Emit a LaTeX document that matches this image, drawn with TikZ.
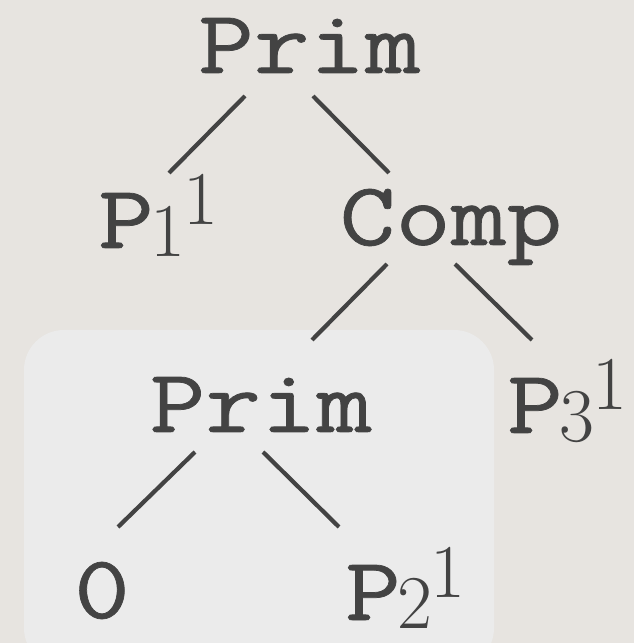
\documentclass[tikz,border=0pt]{standalone}
\usepackage{fontspec}
\newfontfamily\cf{Latin Modern Mono}[FakeBold=0.8, FakeStretch=1.2]
\definecolor{bgc}{HTML}{E7E4E0}
\definecolor{boxc}{HTML}{EBEBEB}
\definecolor{inkc}{HTML}{434343}
\newcommand{\dig}[1]{{\fontsize{76}{78}\rmfamily #1}}
\newcommand{\Pij}[2]{P\kern-3pt\raisebox{-9pt}{\dig{#1}}\kern-2pt\raisebox{23pt}{\dig{#2}}}
\tikzset{
  term/.style={inner sep=0pt, text=inkc, font=\fontsize{90}{94}\cf},
  edge/.style={draw=inkc, line width=4.2pt}
}
\begin{document}
\begin{tikzpicture}[x=1pt,y=1pt]
\useasboundingbox (0,0) rectangle (634,643);
\fill[bgc] (0,0) rectangle (634,643);
\begin{scope}
\clip (0,0) rectangle (634,643);
\fill[boxc, rounded corners=40pt] (24,-25) rectangle (494,313);
\end{scope}
% nodes
\node[term, anchor=base] (root) at (309.5,570) {Prim};
\node[term, anchor=base west] (p1) at (98,395) {\Pij{1}{1}};
\node[term, anchor=base] (comp) at (451,398) {Comp};
\node[term, anchor=base] (prim2) at (261,211) {Prim};
\node[term, anchor=base west] (p3) at (507,210) {\Pij{3}{1}};
\node[term, anchor=base] (zero) at (102,25) {0};
\node[term, anchor=base west] (p2) at (345,23) {\Pij{2}{1}};
% connector ends
\coordinate (a1) at (245,547); \coordinate (b1) at (169,470);
\coordinate (a2) at (313,547); \coordinate (b2) at (389,470);
\coordinate (a3) at (387,379); \coordinate (b3) at (312,303);
\coordinate (a4) at (455,379); \coordinate (b4) at (532,303);
\coordinate (a5) at (195,191); \coordinate (b5) at (118,116);
\coordinate (a6) at (263,191); \coordinate (b6) at (339,116);
\draw[edge] (a1) -- (b1);
\draw[edge] (a2) -- (b2);
\draw[edge] (a3) -- (b3);
\draw[edge] (a4) -- (b4);
\draw[edge] (a5) -- (b5);
\draw[edge] (a6) -- (b6);
\end{tikzpicture}
\end{document}
